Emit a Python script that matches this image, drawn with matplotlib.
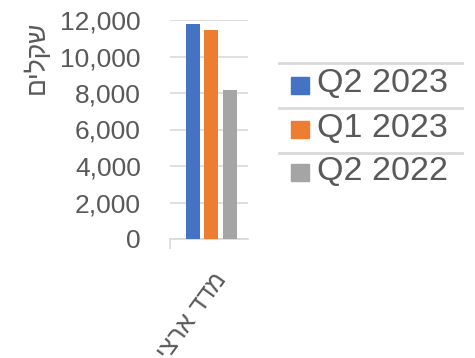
import matplotlib
matplotlib.use("Agg")
import matplotlib.pyplot as plt
from matplotlib.patches import Rectangle
from matplotlib.lines import Line2D
from matplotlib.ticker import FuncFormatter

plt.rcParams['font.family'] = ['Liberation Sans', 'DejaVu Sans']

categories = ["מדד ארצי"]
series_names = ["Q2 2023", "Q1 2023", "Q2 2022"]
series_values = [[11760], [11470], [8180]]
colors = ["#4472C4", "#ED7D31", "#A5A5A5"]
y_label = "שקלים"
y_ticks = [0, 2000, 4000, 6000, 8000, 10000, 12000]

W, H = 475, 358
TEXT = "#595959"
GRID = "#D9D9D9"


def visual(s):
    # matplotlib lays text out left-to-right; reverse Hebrew for display
    return s[::-1]


def fx(x):
    return x / W


def fy(y):
    return 1 - y / H


fig = plt.figure(figsize=(W / 100, H / 100), dpi=100)
ax = fig.add_axes([fx(170), fy(239), (248 - 170) / W, (239 - 20) / H])

bar_w = 0.18
step = 0.237
for i, (name, vals, c) in enumerate(zip(series_names, series_values, colors)):
    xs = [k + (i - 1) * step for k in range(len(categories))]
    ax.bar(xs, vals, width=bar_w, color=c, zorder=3)

ax.set_xlim(-0.53, 0.47)
ax.set_ylim(0, 12000)
ax.set_yticks(y_ticks)
ax.yaxis.set_major_formatter(FuncFormatter(lambda v, p: f"{int(v):,}"))
ax.tick_params(axis='y', length=0, pad=21, labelsize=19, labelcolor=TEXT)
ax.set_xticks([])
ax.grid(axis='y', color=GRID, linewidth=1.2, zorder=0)
for s in ['top', 'right', 'left']:
    ax.spines[s].set_visible(False)
ax.spines['bottom'].set_color(GRID)
ax.spines['bottom'].set_linewidth(1.2)

# tick mark at the left end of the category axis
fig.add_artist(Line2D([fx(170), fx(170)], [fy(239), fy(248)], color=GRID,
                      linewidth=1.2))

# y axis title
fig.text(fx(36), fy(57), visual(y_label), rotation=90, ha='center',
         va='center', fontsize=19, color=TEXT)

# category label, rotated
for k, cat in enumerate(categories):
    fig.text(fx(212), fy(268), visual(cat), rotation=54, rotation_mode='anchor',
             ha='right', va='top', fontsize=18, color=TEXT)

# legend
for yl in [63, 108, 153]:
    fig.add_artist(Line2D([fx(279), fx(462)], [fy(yl), fy(yl)], color=GRID,
                          linewidth=2))
rows = [85, 129, 172]
for name, c, yc in zip(series_names, colors, rows):
    fig.add_artist(Rectangle((fx(291), fy(yc + 8.5)), 18 / W, 17 / H,
                             color=c, transform=fig.transFigure))
    fig.text(fx(317), fy(yc - 1), name, ha='left', va='center', fontsize=24.5,
             color=TEXT)

fig.savefig("out.png", dpi=100)
